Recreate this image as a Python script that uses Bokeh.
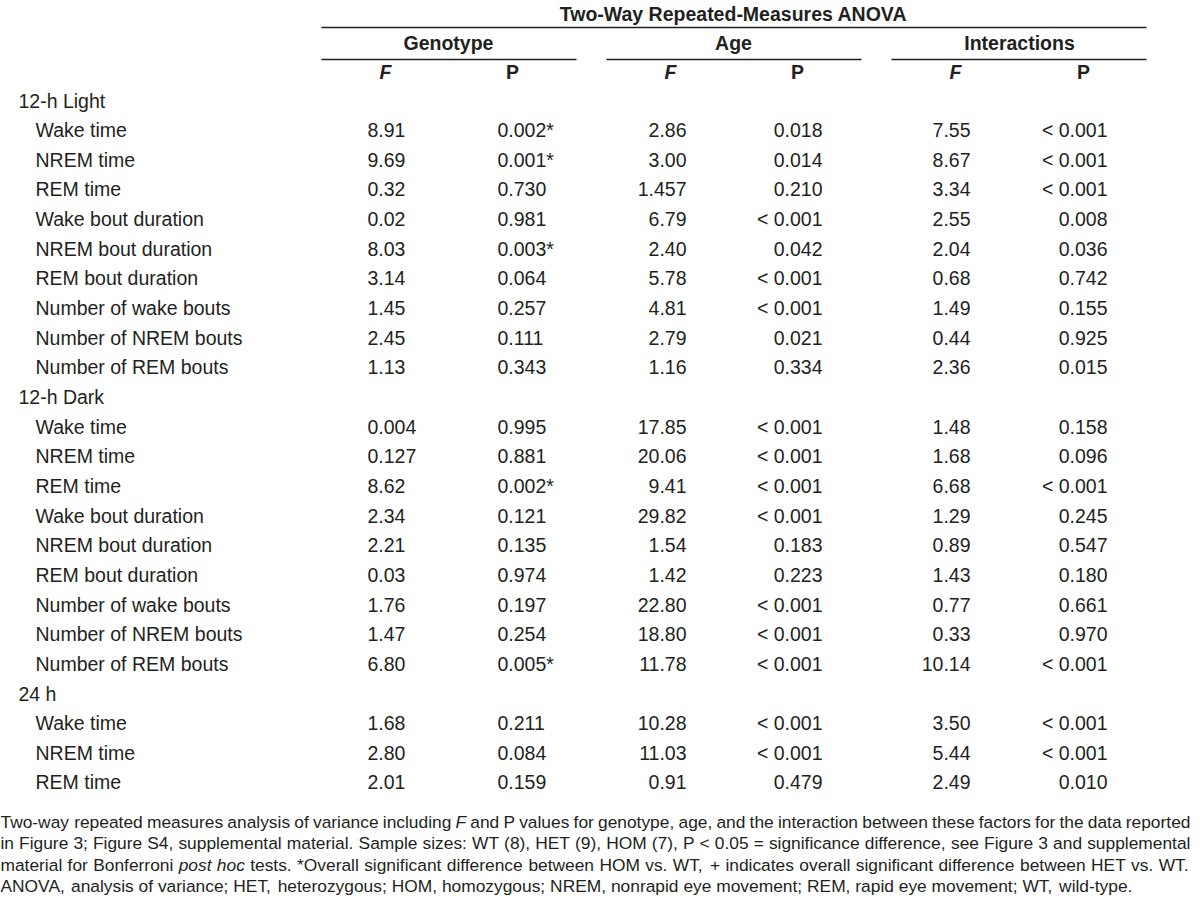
from bokeh.plotting import figure
from bokeh.models import Range1d, ColumnDataSource
from bokeh.core.properties import value
from bokeh.embed import file_html
from bokeh.resources import INLINE

# ---------------- data ----------------
title = "Two-Way Repeated-Measures ANOVA"
factors = ["Genotype", "Age", "Interactions"]
stats = ["F", "P"]
sections = ["12-h Light", "12-h Dark", "24 h"]
measures_full = ["Wake time", "NREM time", "REM time", "Wake bout duration",
                 "NREM bout duration", "REM bout duration", "Number of wake bouts",
                 "Number of NREM bouts", "Number of REM bouts"]
measures_24 = ["Wake time", "NREM time", "REM time"]

genotype_F = ["8.91", "9.69", "0.32", "0.02", "8.03", "3.14", "1.45", "2.45", "1.13",
              "0.004", "0.127", "8.62", "2.34", "2.21", "0.03", "1.76", "1.47", "6.80",
              "1.68", "2.80", "2.01"]
genotype_P = ["0.002*", "0.001*", "0.730", "0.981", "0.003*", "0.064", "0.257", "0.111", "0.343",
              "0.995", "0.881", "0.002*", "0.121", "0.135", "0.974", "0.197", "0.254", "0.005*",
              "0.211", "0.084", "0.159"]
age_F = ["2.86", "3.00", "1.457", "6.79", "2.40", "5.78", "4.81", "2.79", "1.16",
         "17.85", "20.06", "9.41", "29.82", "1.54", "1.42", "22.80", "18.80", "11.78",
         "10.28", "11.03", "0.91"]
age_P = ["0.018", "0.014", "0.210", "< 0.001", "0.042", "< 0.001", "< 0.001", "0.021", "0.334",
         "< 0.001", "< 0.001", "< 0.001", "< 0.001", "0.183", "0.223", "< 0.001", "< 0.001", "< 0.001",
         "< 0.001", "< 0.001", "0.479"]
inter_F = ["7.55", "8.67", "3.34", "2.55", "2.04", "0.68", "1.49", "0.44", "2.36",
           "1.48", "1.68", "6.68", "1.29", "0.89", "1.43", "0.77", "0.33", "10.14",
           "3.50", "5.44", "2.49"]
inter_P = ["< 0.001", "< 0.001", "< 0.001", "0.008", "0.036", "0.742", "0.155", "0.925", "0.015",
           "0.158", "0.096", "< 0.001", "0.245", "0.547", "0.180", "0.661", "0.970", "< 0.001",
           "< 0.001", "< 0.001", "0.010"]

footnote = [
    "Two-way repeated measures analysis of variance including F and P values for genotype, age, and the interaction between these factors for the data reported",
    "in Figure 3; Figure S4, supplemental material. Sample sizes: WT (8), HET (9), HOM (7), P < 0.05 = significance difference, see Figure 3 and supplemental",
    "material for Bonferroni post hoc tests. *Overall significant difference between HOM vs. WT, + indicates overall significant difference between HET vs. WT.",
    "ANOVA, analysis of variance; HET, heterozygous; HOM, homozygous; NREM, nonrapid eye movement; REM, rapid eye movement; WT, wild-type.",
]
italic_words = {0: ["F"], 2: ["post", "hoc"]}

# ---------------- styling ----------------
FONT = "Liberation Sans"
INK = "#231f20"
FS = "19.5px"

p = figure(width=1192, height=913, output_backend="svg", toolbar_location=None,
           x_range=Range1d(0, 1192), y_range=Range1d(913, 0), min_border=0)
p.axis.visible = False
p.grid.visible = False
p.outline_line_color = None
p.background_fill_color = "white"
p.border_fill_color = "white"

def txt(x, y, t, align="left", style="normal", size=FS):
    p.text(x=x, y=y, text=t, text_font=value(FONT), text_font_size=size,
           text_color=INK, text_align=align, text_baseline="middle",
           text_font_style=style)

# header
txt([733], [13], [title], align="center", style="bold")
header_lines_x0 = [321, 321, 606, 891]
header_lines_x1 = [1146, 576, 861, 1146]
header_lines_y = [27, 59, 59, 59]
p.segment(x0=header_lines_x0, x1=header_lines_x1, y0=header_lines_y, y1=header_lines_y,
          line_color=INK, line_width=1.5)
fac_cx = [448, 733, 1019]
txt(fac_cx, [42] * 3, factors, align="center", style="bold")
F_cx = [385, 670, 955]
P_cx = [512, 797, 1083]
txt(F_cx, [71] * 3, [stats[0]] * 3, align="center", style="bold italic")
txt(P_cx, [71] * 3, [stats[1]] * 3, align="center", style="bold")

# rows
Y0, DY = 100, 29.65
labels, label_y, sec_y = [], [], []
data_rows = []
r = 0
for si, sec in enumerate(sections):
    sec_y.append(Y0 + r * DY)
    r += 1
    meas = measures_full if si < 2 else measures_24
    for m in meas:
        labels.append(m)
        label_y.append(Y0 + r * DY)
        data_rows.append(Y0 + r * DY)
        r += 1

txt([18] * len(sections), sec_y, sections)
txt([35] * len(labels), label_y, labels)

cols = [(genotype_F, 367, "left"), (genotype_P, 497, "left"),
        (age_F, 686, "right"), (age_P, 822, "right"),
        (inter_F, 970, "right"), (inter_P, 1107, "right")]
for vals, xx, al in cols:
    src = ColumnDataSource(dict(x=[xx] * len(vals), y=data_rows, t=vals))
    p.text(x="x", y="y", text="t", source=src, text_font=value(FONT), text_font_size=FS,
           text_color=INK, text_align=al, text_baseline="middle")

# footnote with justified words (Arial / Liberation Sans metrics)
AW = {' ': 278, ',': 278, '.': 278, ';': 278, ':': 278, '(': 333, ')': 333, '*': 389, '+': 584,
      '-': 333, '<': 584, '=': 584, '0': 556, '1': 556, '2': 556, '3': 556, '4': 556, '5': 556,
      '6': 556, '7': 556, '8': 556, '9': 556,
      'A': 667, 'B': 667, 'C': 722, 'D': 722, 'E': 667, 'F': 611, 'G': 778, 'H': 722, 'I': 278,
      'J': 500, 'K': 667, 'L': 556, 'M': 833, 'N': 722, 'O': 778, 'P': 667, 'Q': 778, 'R': 722,
      'S': 667, 'T': 611, 'U': 722, 'V': 667, 'W': 944, 'X': 667, 'Y': 667, 'Z': 611,
      'a': 556, 'b': 556, 'c': 500, 'd': 556, 'e': 556, 'f': 278, 'g': 556, 'h': 556, 'i': 222,
      'j': 222, 'k': 500, 'l': 222, 'm': 833, 'n': 556, 'o': 556, 'p': 556, 'q': 556, 'r': 333,
      's': 500, 't': 278, 'u': 556, 'v': 500, 'w': 722, 'x': 500, 'y': 500, 'z': 500}

def em(s):
    return sum(AW.get(c, 556) for c in s) / 1000.0

FOOT_FS = 1132.0 / em(footnote[3])
foot_y = [821, 842.5, 864, 885.5]
XL, XR = 0, 1190
reg = dict(x=[], y=[], t=[])
ita = dict(x=[], y=[], t=[])
for li, line in enumerate(footnote):
    words = line.split(" ")
    ws = [em(w) * FOOT_FS for w in words]
    if li < 3:
        gap = (XR - XL - sum(ws)) / (len(words) - 1)
    else:
        gap = em(" ") * FOOT_FS
    x = XL
    for w, wd in zip(words, ws):
        tgt = ita if w in italic_words.get(li, []) else reg
        tgt["x"].append(x)
        tgt["y"].append(foot_y[li])
        tgt["t"].append(w)
        x += wd + gap

fsz = "%.2fpx" % FOOT_FS
p.text(x="x", y="y", text="t", source=ColumnDataSource(reg), text_font=value(FONT),
       text_font_size=fsz, text_color=INK, text_align="left", text_baseline="middle")
p.text(x="x", y="y", text="t", source=ColumnDataSource(ita), text_font=value(FONT),
       text_font_size=fsz, text_color=INK, text_align="left", text_baseline="middle",
       text_font_style="italic")

open("out.html", "w").write(file_html(p, INLINE))
